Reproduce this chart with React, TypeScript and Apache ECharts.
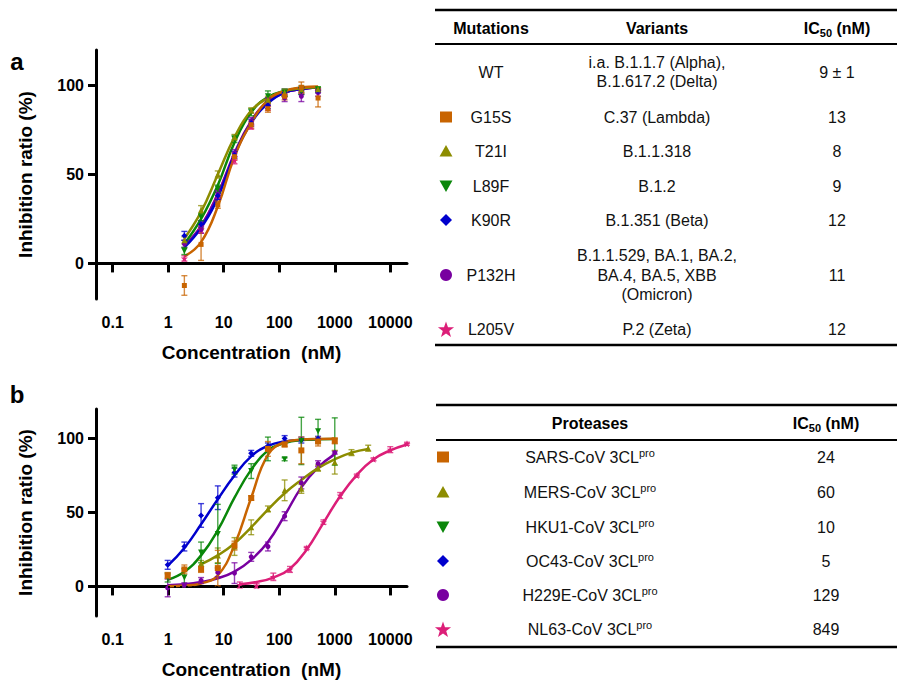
import React, { useEffect, useRef } from "react";
import * as echarts from "echarts";

const FF = '"Liberation Sans", Arial, Helvetica, sans-serif';

// ---------- colours ----------
const C_ORANGE = "#C86400";
const C_OLIVE = "#8C8C00";
const C_GREEN = "#0A870A";
const C_BLUE = "#0000CD";
const C_PURPLE = "#7800A0";
const C_PINK = "#DC1E78";

// ---------- axes ----------
const xTickValues = [0.1, 1, 10, 100, 1000, 10000];
const yTickValues = [0, 50, 100];

// ---------- panel a (concentration nM) ----------
const concA = [1.953, 3.906, 7.8125, 15.625, 31.25, 62.5, 125, 250, 500];

const aG15S = [-12.4, 10.7, 33, 60, 78, 87, 94, 99, 93];
const aG15SErr = [5.5, 9, 2, 2, 2, 2, 2, 3, 5];
const aG15SFit = [4, 12, 32, 60, 79, 92, 97, 99, 99.5];

const aT21I = [13, 30, 50, 71, 86, 92, 96, 98, 98];
const aT21IErr = [2, 2.5, 2, 1.5, 1.5, 2, 2, 2, 1];
const aT21IFit = [14, 29, 50, 71, 86, 93, 97, 98.5, 99];

const aL89F = [7, 26, 42, 70, 85, 94, 96, 97, 98];
const aL89FErr = [2, 2, 2, 2, 2, 3, 2, 2, 1];
const aL89FFit = [11, 25, 44, 68, 85, 93.5, 97, 98.5, 99];

const aK90R = [15.5, 22, 38, 61, 79, 89, 96, 97, 97];
const aK90RErr = [2.5, 2, 2, 2, 2, 2, 2, 2, 1];
const aK90RFit = [9, 20, 37, 61, 79, 90, 96, 98, 99];

const aP132H = [11, 19, 39, 62, 80, 91, 93, 94, 96];
const aP132HErr = [2, 2, 2, 2, 2, 2, 2, 3, 2];
const aP132HFit = [10, 21, 39, 62, 80, 91, 96, 98, 99];

const aL205V = [2.8, 19, 38, 58, 77, 88, 95, 97, 97];
const aL205VErr = [1.5, 2, 2, 2, 1.5, 2, 1.5, 1.5, 1];
const aL205VFit = [10, 21, 39, 61, 80, 91, 96, 98, 99];

// ---------- panel b ----------
const concB = [0.977, 1.953, 3.906, 7.8125, 15.625, 31.25, 62.5, 125, 250, 500, 1000];
const concBOC43 = [0.977, 1.953, 3.906, 7.8125, 15.625, 31.25, 62.5, 125, 250, 500];
const concBMERS = [3.906, 7.8125, 15.625, 31.25, 62.5, 125, 250, 500, 1000, 2000, 4000];
const concBNL63 = [19.53, 39.06, 78.125, 156.25, 312.5, 625, 1250, 2500, 5000, 10000, 20000];

const bSARS = [7.4, 11.5, 11.5, 12.4, 27.6, 59.8, 93, 96, 92, 98, 98.5];
const bSARSErr = [2, 3, 2, 12, 3, 1.5, 5, 1.5, 9, 3, 2];
const bSARSFit = [0.2, 0.6, 2, 7.5, 28, 60, 89, 97.5, 99.3, 99.7, 99.8];

const bMERS = [15.5, 21, 27, 40, 52.4, 65, 66, 80, 84, 90.5, 93.5];
const bMERSErr = [2, 5, 6, 5, 2, 7, 3, 2, 8, 2, 2];
const bMERSFit = [15, 21, 29, 40, 52, 63, 72, 80, 86, 90.5, 93];

const bHKU1 = [6, 6, 23, 35.5, 79, 78, 93, 86, 98.4, 105, 98];
const bHKU1Err = [3, 6, 7, 20, 3, 5, 8, 1, 16, 8, 16];
const bHKU1Fit = [4.5, 10, 21, 38, 60, 79, 92, 97, 99, 99.5, 99.7];

const bOC43 = [14.6, 27, 48, 60, 77, 90, 95, 100, 99, 100];
const bOC43Err = [3, 3, 8, 8, 3, 2, 2, 2, 2, 1.5];
const bOC43Fit = [14, 26, 42, 59, 75, 88, 95, 98, 99, 99.5];

const bH229E = [-1, 1, 4, 9.5, 9, 20, 27, 47.5, 70, 83, 90.5];
const bH229EErr = [6, 1.5, 2, 3, 7, 3, 3, 3, 4, 2, 1];
const bH229EFit = [0.8, 1.5, 3, 5.5, 10, 18, 30, 48, 67, 80.5, 89.5];

const bNL63 = [1, 0.5, 6.5, 11.5, 26, 43.5, 61.5, 75, 86, 92.5, 96.5];
const bNL63Err = [2, 1.5, 2.5, 2, 1, 1.5, 2, 1, 1, 2, 1];
const bNL63Fit = [1.5, 3, 6, 12, 25, 43, 61, 75.5, 86, 92, 96];

// ---------- tables ----------
const tableAMutations = ["WT", "G15S", "T21I", "L89F", "K90R", "P132H", "L205V"];
const tableAVariants = [
  "i.a. B.1.1.7 (Alpha),\nB.1.617.2 (Delta)",
  "C.37 (Lambda)",
  "B.1.1.318",
  "B.1.2",
  "B.1.351 (Beta)",
  "B.1.1.529, BA.1, BA.2,\nBA.4, BA.5, XBB\n(Omicron)",
  "P.2 (Zeta)",
];
const tableAIC50 = ["9 ± 1", "13", "8", "9", "12", "11", "12"];
const tableAMarkers = ["", "square", "triangle", "invtriangle", "diamond", "circle", "star"];
const tableAColors = ["", C_ORANGE, C_OLIVE, C_GREEN, C_BLUE, C_PURPLE, C_PINK];

const tableBProteases = ["SARS-CoV", "MERS-CoV", "HKU1-CoV", "OC43-CoV", "H229E-CoV", "NL63-CoV"];
const tableBIC50 = ["24", "60", "10", "5", "129", "849"];
const tableBMarkers = ["square", "triangle", "invtriangle", "diamond", "circle", "star"];
const tableBColors = [C_ORANGE, C_OLIVE, C_GREEN, C_BLUE, C_PURPLE, C_PINK];

const STAR_PATH =
  "path://M0,-10 L2.35,-3.24 L9.51,-3.09 L3.8,1.24 L5.88,8.09 L0,4 L-5.88,8.09 L-3.8,1.24 L-9.51,-3.09 L-2.35,-3.24 Z";

type Def = {
  color: string;
  symbol: string;
  rotate?: number;
  size: number;
  conc: number[];
  pts: number[];
  err: number[];
  fit: number[];
};

const panelADefs: Def[] = [
  { color: C_PINK, symbol: STAR_PATH, size: 7, conc: concA, pts: aL205V, err: aL205VErr, fit: aL205VFit },
  { color: C_PURPLE, symbol: "circle", size: 5, conc: concA, pts: aP132H, err: aP132HErr, fit: aP132HFit },
  { color: C_BLUE, symbol: "diamond", size: 6, conc: concA, pts: aK90R, err: aK90RErr, fit: aK90RFit },
  { color: C_GREEN, symbol: "triangle", rotate: 180, size: 6, conc: concA, pts: aL89F, err: aL89FErr, fit: aL89FFit },
  { color: C_OLIVE, symbol: "triangle", size: 6, conc: concA, pts: aT21I, err: aT21IErr, fit: aT21IFit },
  { color: C_ORANGE, symbol: "rect", size: 5, conc: concA, pts: aG15S, err: aG15SErr, fit: aG15SFit },
];

const panelBDefs: Def[] = [
  { color: C_PINK, symbol: STAR_PATH, size: 7, conc: concBNL63, pts: bNL63, err: bNL63Err, fit: bNL63Fit },
  { color: C_PURPLE, symbol: "circle", size: 5, conc: concB, pts: bH229E, err: bH229EErr, fit: bH229EFit },
  { color: C_OLIVE, symbol: "triangle", size: 6, conc: concBMERS, pts: bMERS, err: bMERSErr, fit: bMERSFit },
  { color: C_BLUE, symbol: "diamond", size: 6, conc: concBOC43, pts: bOC43, err: bOC43Err, fit: bOC43Fit },
  { color: C_GREEN, symbol: "triangle", rotate: 180, size: 6, conc: concB, pts: bHKU1, err: bHKU1Err, fit: bHKU1Fit },
  { color: C_ORANGE, symbol: "rect", size: 6, conc: concB, pts: bSARS, err: bSARSErr, fit: bSARSFit },
];

function makeErr(color: string) {
  return (params: any, api: any) => {
    const x = api.value(0);
    const y = api.value(1);
    const e = api.value(2);
    const p1 = api.coord([x, y + e]);
    const p2 = api.coord([x, y - e]);
    const w = 3;
    const st = { stroke: color, lineWidth: 1.4, opacity: 0.75 };
    return {
      type: "group",
      children: [
        { type: "line", shape: { x1: p1[0], y1: p1[1], x2: p2[0], y2: p2[1] }, style: st },
        { type: "line", shape: { x1: p1[0] - w, y1: p1[1], x2: p1[0] + w, y2: p1[1] }, style: st },
        { type: "line", shape: { x1: p2[0] - w, y1: p2[1], x2: p2[0] + w, y2: p2[1] }, style: st },
      ],
    };
  };
}

function panelSeries(defs: Def[], idx: number) {
  const out: any[] = [];
  defs.forEach((d, k) => {
    const line: any = {
      type: "line",
      xAxisIndex: idx,
      yAxisIndex: idx,
      data: d.conc.map((c, i) => [c, d.fit[i]]),
      smooth: 0.45,
      showSymbol: false,
      silent: true,
      lineStyle: { color: d.color, width: 2.5 },
      z: 2,
    };
    if (k === 0) {
      line.markLine = {
        silent: true,
        symbol: "none",
        label: { show: false },
        lineStyle: { color: "#000", type: [2, 4], width: 2 },
        data: [{ yAxis: 0 }],
      };
    }
    out.push(line);
    out.push({
      type: "custom",
      xAxisIndex: idx,
      yAxisIndex: idx,
      data: d.conc.map((c, i) => [c, d.pts[i], d.err[i]]),
      encode: { x: 0, y: 1 },
      renderItem: makeErr(d.color),
      silent: true,
      z: 3,
    });
    out.push({
      type: "scatter",
      xAxisIndex: idx,
      yAxisIndex: idx,
      data: d.conc.map((c, i) => [c, d.pts[i]]),
      symbol: d.symbol,
      symbolSize: d.size,
      symbolRotate: d.rotate || 0,
      itemStyle: { color: d.color, opacity: 1 },
      silent: true,
      z: 4,
    });
  });
  return out;
}

function xAxis(idx: number) {
  return {
    type: "log",
    logBase: 10,
    gridIndex: idx,
    min: 0.05,
    max: 20000,
    name: "Concentration  (nM)",
    nameLocation: "middle",
    nameGap: 44,
    nameTextStyle: { fontFamily: FF, fontSize: 19, fontWeight: "bold", color: "#000" },
    axisLine: { show: true, lineStyle: { color: "#000", width: 3 } },
    axisTick: { show: true, customValues: xTickValues, length: 9, lineStyle: { color: "#000", width: 3 } },
    axisLabel: {
      customValues: xTickValues,
      margin: 15,
      fontFamily: FF,
      fontSize: 16,
      fontWeight: "bold",
      color: "#000",
      formatter: (v: number) => String(+Number(v).toPrecision(6)),
    },
    splitLine: { show: false },
    minorTick: { show: false },
  };
}

function yAxis(idx: number) {
  return {
    type: "value",
    gridIndex: idx,
    min: -20,
    max: 120,
    name: "Inhibition ratio (%)",
    nameLocation: "middle",
    nameGap: 61,
    nameTextStyle: { fontFamily: FF, fontSize: 19, fontWeight: "bold", color: "#000" },
    axisLine: { show: true, lineStyle: { color: "#000", width: 3 } },
    axisTick: { show: true, customValues: yTickValues, length: 8, lineStyle: { color: "#000", width: 3 } },
    axisLabel: {
      customValues: yTickValues,
      margin: 12,
      fontFamily: FF,
      fontSize: 16,
      fontWeight: "bold",
      color: "#000",
    },
    splitLine: { show: false },
  };
}

function markerGraphic(kind: string, cx: number, cy: number, color: string): any {
  const style = { fill: color };
  if (kind === "square") return { type: "rect", shape: { x: cx - 6, y: cy - 5.5, width: 12, height: 11 }, style };
  if (kind === "triangle")
    return { type: "polygon", shape: { points: [[cx, cy - 6], [cx - 6.5, cy + 5.5], [cx + 6.5, cy + 5.5]] }, style };
  if (kind === "invtriangle")
    return { type: "polygon", shape: { points: [[cx - 6.5, cy - 5.5], [cx + 6.5, cy - 5.5], [cx, cy + 6]] }, style };
  if (kind === "diamond")
    return { type: "polygon", shape: { points: [[cx, cy - 6], [cx + 6, cy], [cx, cy + 6], [cx - 6, cy]] }, style };
  if (kind === "circle") return { type: "circle", shape: { cx, cy, r: 6 }, style };
  if (kind === "star") {
    const pts: number[][] = [];
    for (let i = 0; i < 10; i++) {
      const r = i % 2 === 0 ? 8.5 : 3.4;
      const a = -Math.PI / 2 + (i * Math.PI) / 5;
      pts.push([cx + r * Math.cos(a), cy + 1 + r * Math.sin(a)]);
    }
    return { type: "polygon", shape: { points: pts }, style };
  }
  return null;
}

function txt(text: string, x: number, y: number, opts: any = {}) {
  return {
    type: "text",
    x,
    y,
    style: {
      text,
      fill: "#111",
      fontFamily: FF,
      fontSize: 16,
      align: "center",
      verticalAlign: "middle",
      ...opts,
    },
  };
}

function hline(x1: number, x2: number, y: number, w: number) {
  return { type: "line", shape: { x1, y1: y, x2, y2: y }, style: { stroke: "#000", lineWidth: w } };
}

function ic50Header(x: number, y: number) {
  return {
    type: "text",
    x,
    y,
    style: {
      text: "{a|IC}{s|50}{a| (nM)}",
      align: "center",
      verticalAlign: "middle",
      rich: {
        a: { fontFamily: FF, fontSize: 16, fontWeight: "bold", fill: "#000", color: "#000", lineHeight: 20 },
        s: { fontFamily: FF, fontSize: 11, fontWeight: "bold", fill: "#000", color: "#000", lineHeight: 12, verticalAlign: "bottom" },
      },
    },
  };
}

function buildGraphics() {
  const g: any[] = [];
  // panel letters
  g.push(txt("a", 17, 61, { fontSize: 24, fontWeight: "bold", fill: "#000" }));
  g.push(txt("b", 17, 394, { fontSize: 24, fontWeight: "bold", fill: "#000" }));

  // table a
  g.push(hline(435, 897, 10, 2.5));
  g.push(hline(435, 897, 44, 2));
  g.push(hline(435, 897, 345, 2.5));
  g.push(txt("Mutations", 491, 28, { fontWeight: "bold", fill: "#000" }));
  g.push(txt("Variants", 657, 28, { fontWeight: "bold", fill: "#000" }));
  g.push(ic50Header(837, 28));
  const rowYA = [72, 117, 151, 186, 220, 275, 329];
  tableAMutations.forEach((m, i) => {
    const y = rowYA[i];
    g.push(txt(m, 491, y));
    g.push(txt(tableAVariants[i], 657, y, { lineHeight: 19.5 }));
    g.push(txt(tableAIC50[i], 837, y));
    if (tableAMarkers[i]) g.push(markerGraphic(tableAMarkers[i], 446, y, tableAColors[i]));
  });

  // table b
  g.push(hline(436, 897, 405, 2.5));
  g.push(hline(436, 897, 440, 2));
  g.push(hline(436, 897, 647, 2.5));
  g.push(txt("Proteases", 590, 423, { fontWeight: "bold", fill: "#000" }));
  g.push(ic50Header(826, 423));
  const rowYB = [457, 492, 527, 561, 595, 629];
  tableBProteases.forEach((p, i) => {
    const y = rowYB[i];
    g.push({
      type: "text",
      x: 590,
      y,
      style: {
        text: "{n|" + p + " 3CL}{p|pro}",
        align: "center",
        verticalAlign: "middle",
        rich: {
          n: { fontFamily: FF, fontSize: 16, fill: "#111", color: "#111", lineHeight: 20 },
          p: { fontFamily: FF, fontSize: 11, fill: "#111", color: "#111", lineHeight: 12, verticalAlign: "top" },
        },
      },
    });
    g.push(txt(tableBIC50[i], 826, y));
    g.push(markerGraphic(tableBMarkers[i], 443, y, tableBColors[i]));
  });
  return g;
}

export default function App() {
  const ref = useRef<HTMLDivElement>(null);
  useEffect(() => {
    document.body.style.margin = "0";
    if (!ref.current) return;
    const chart = echarts.init(ref.current, undefined, { renderer: "svg" });
    chart.setOption({
      animation: false,
      backgroundColor: "#fff",
      textStyle: { fontFamily: FF },
      grid: [
        { left: 96, top: 50, width: 311, height: 249 },
        { left: 96, top: 409, width: 311, height: 207 },
      ],
      xAxis: [xAxis(0), xAxis(1)],
      yAxis: [yAxis(0), yAxis(1)],
      series: [...panelSeries(panelADefs, 0), ...panelSeries(panelBDefs, 1)],
      graphic: buildGraphics(),
    });
    return () => chart.dispose();
  }, []);
  return <div ref={ref} style={{ width: 897, height: 684 }} />;
}
